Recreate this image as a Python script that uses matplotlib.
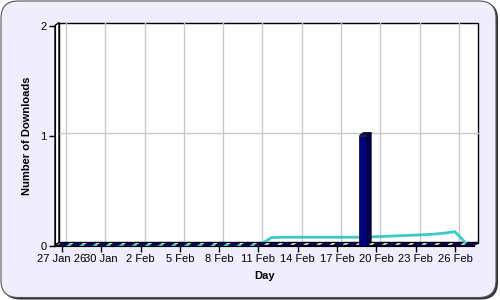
import numpy as np
import matplotlib.pyplot as plt
from matplotlib.patches import Polygon, Rectangle, FancyBboxPatch

plt.rcParams['font.family'] = ['Liberation Sans', 'DejaVu Sans']

# one entry per day, 27 Jan .. 27 Feb
days = np.arange(32)
downloads = [0] * 23 + [1] + [0] * 8
trend = [0] * 16 + [0.072, 0.075, 0.075, 0.075, 0.075, 0.075, 0.075, 0.077,
                    0.08, 0.085, 0.09, 0.095, 0.1, 0.11, 0.125, 0.0]
tick_days = [0, 3, 6, 9, 12, 15, 18, 21, 24, 27, 30]
tick_labels = ["27 Jan 26", "30 Jan", "2 Feb", "5 Feb", "8 Feb", "11 Feb",
               "14 Feb", "17 Feb", "20 Feb", "23 Feb", "26 Feb"]

fig = plt.figure(figsize=(5, 3), dpi=100)
fig.patch.set_facecolor("white")

# rounded panel with a small shadow
shadow = FancyBboxPatch((0.03, 0.005), 4.95, 2.975, boxstyle="round,pad=0,rounding_size=0.17",
                        transform=fig.dpi_scale_trans, facecolor="#333333", edgecolor="none", zorder=-2)
panel = FancyBboxPatch((0.01, 0.025), 4.95, 2.965, boxstyle="round,pad=0,rounding_size=0.17",
                       transform=fig.dpi_scale_trans, facecolor="#EEEEFF", edgecolor="#555555", lw=0.8,
                       zorder=-1)
fig.patches.extend([shadow, panel])

ax = fig.add_axes([55 / 500, 54.5 / 300, 419 / 500, 220 / 300])
xmin, xmax = -0.53, 31.45
ymin, ymax = 0, 2
ax.set_xlim(xmin, xmax)
ax.set_ylim(ymin, ymax)
ax.patch.set_visible(False)

# 3d depth offset, 4 px right and 3 px up
dx = (xmax - xmin) * 4 / 419
dy = (ymax - ymin) * 3 / 220

# back wall, left wall and floor
ax.add_patch(Rectangle((xmin + dx, ymin + dy), xmax - xmin, ymax - ymin, facecolor="white",
                       edgecolor="black", lw=1, clip_on=False, zorder=0))
ax.add_patch(Polygon([(xmin, ymin), (xmin + dx, ymin + dy), (xmin + dx, ymax + dy), (xmin, ymax)],
                     facecolor="white", edgecolor="black", lw=1, clip_on=False, zorder=0.5))
ax.add_patch(Polygon([(xmin, ymin), (xmax, ymin), (xmax + dx, ymin + dy), (xmin + dx, ymin + dy)],
                     facecolor="white", edgecolor="black", lw=1, clip_on=False, zorder=0.5))

# grid on the back wall
for d in tick_days:
    ax.plot([d + dx, d + dx], [ymin + dy, ymax + dy], color="#C8C8C8", lw=1, clip_on=False, zorder=0.2)
for v in [1]:
    ax.plot([xmin + dx, xmax + dx], [v + dy, v + dy], color="#C8C8C8", lw=1, clip_on=False, zorder=0.2)

# trend line
ax.plot(days, trend, color="#3CC8C8", lw=2, clip_on=False, zorder=2, solid_joinstyle="round")

# 3d bars
w = 0.6
for d, v in zip(days, downloads):
    x0, x1 = d - w / 2, d + w / 2
    top = Polygon([(x0, v), (x1, v), (x1 + dx, v + dy), (x0 + dx, v + dy)],
                  facecolor="#000070", edgecolor="black", lw=0.5, clip_on=False, zorder=3)
    ax.add_patch(top)
    if v > 0:
        side = Polygon([(x1, 0), (x1 + dx, dy), (x1 + dx, v + dy), (x1, v)],
                       facecolor="#000050", edgecolor="black", lw=0.5, clip_on=False, zorder=3)
        front = Rectangle((x0, 0), w, v, facecolor="#000080", edgecolor="black", lw=0.5,
                          clip_on=False, zorder=3.5)
        ax.add_patch(side)
        ax.add_patch(front)

for s in ["top", "right"]:
    ax.spines[s].set_visible(False)
for s in ["left", "bottom"]:
    ax.spines[s].set_color("black")
    ax.spines[s].set_zorder(4)

ax.set_xticks(tick_days)
ax.set_xticklabels(tick_labels)
ax.set_yticks([0, 1, 2])
ax.tick_params(length=4, width=1, labelsize=8, pad=2)
ax.set_xlabel("Day", fontsize=8, fontweight="bold", labelpad=5)
ax.set_ylabel("Number of Downloads", fontsize=8, fontweight="bold", labelpad=6)

fig.savefig("out.png", dpi=100)
